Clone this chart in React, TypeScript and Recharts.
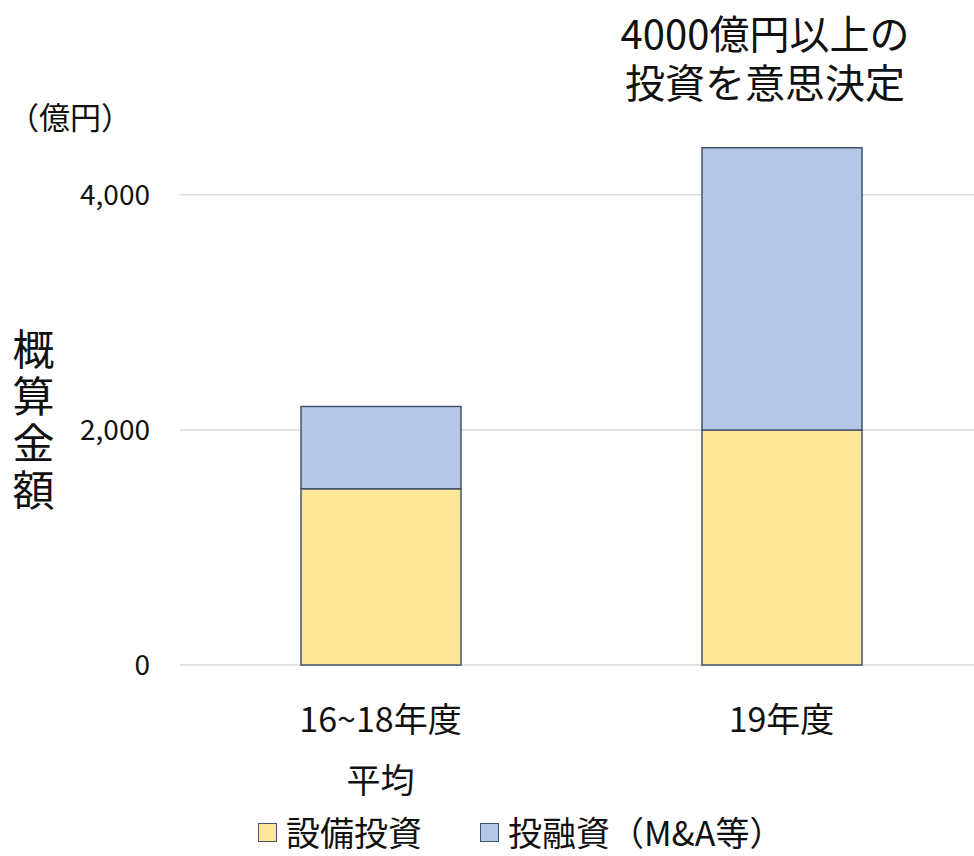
import { BarChart, Bar, XAxis, YAxis, CartesianGrid } from "recharts"

const categories = ["16~18年度\n平均", "19年度"]
const equipment = [1500, 2000]
const investment = [700, 2400]
const yTicks = [0, 2000, 4000]

const data = categories.map((name, i) => ({
  name,
  equipment: equipment[i],
  investment: investment[i],
}))

const FONT = '"Noto Sans CJK JP", "Noto Sans", sans-serif'
const YELLOW = "#FFE699"
const BLUE = "#B4C7E7"
const EDGE = "#44546A"

function YTick(props: any) {
  const { y, payload } = props
  return (
    <text x={150} y={y} dy={10} textAnchor="end" fontSize={28} fill="#111" fontFamily={FONT}>
      {payload.value.toLocaleString("en-US")}
    </text>
  )
}

function XTick(props: any) {
  const { x, payload } = props
  const lines = String(payload.value).split("\n")
  return (
    <g>
      {lines.map((l, i) => (
        <text key={i} x={x} y={732 + i * 61} textAnchor="middle" fontSize={34} fill="#111" fontFamily={FONT}>
          {l}
        </text>
      ))}
    </g>
  )
}

function LegendItem({ color, label }: { color: string; label: string }) {
  return (
    <div style={{ display: "flex", alignItems: "center", marginRight: 58 }}>
      <div style={{ width: 17, height: 17, background: color, border: `1.5px solid ${EDGE}`, marginRight: 9 }} />
      <span>{label}</span>
    </div>
  )
}

export default function App() {
  return (
    <div style={{ position: "absolute", left: 0, top: 0, width: 974, height: 856, overflow: "hidden", fontFamily: FONT, color: "#111", background: "#fff" }}>
      <BarChart width={982} height={856} data={data} margin={{ top: 136, right: 0, bottom: 161, left: 0 }} barSize={160}>
        <CartesianGrid vertical={false} horizontalValues={yTicks} stroke="#d9d9d9" strokeWidth={1.5} />
        <XAxis dataKey="name" height={30} axisLine={false} tickLine={false} tick={<XTick />} interval={0} />
        <YAxis width={180} domain={[0, 4500]} ticks={yTicks} axisLine={false} tickLine={false} tick={<YTick />} />
        <Bar dataKey="equipment" stackId="a" fill={YELLOW} stroke={EDGE} strokeWidth={1.5} isAnimationActive={false} />
        <Bar dataKey="investment" stackId="a" fill={BLUE} stroke={EDGE} strokeWidth={1.5} isAnimationActive={false} />
      </BarChart>
      <div style={{ position: "absolute", left: 8, top: 96, fontSize: 31, lineHeight: "40px" }}>（億円）</div>
      <div style={{ position: "absolute", left: 9, top: 328, fontSize: 42, lineHeight: "48px", letterSpacing: 5, writingMode: "vertical-rl" }}>
        概算金額
      </div>
      <div style={{ position: "absolute", left: 565, top: 8, width: 400, textAlign: "center", fontSize: 40, lineHeight: "49px" }}>
        4000億円以上の
        <br />
        投資を意思決定
      </div>
      <div style={{ position: "absolute", left: 258, top: 813, display: "flex", fontSize: 34, lineHeight: "38px" }}>
        <LegendItem color={YELLOW} label="設備投資" />
        <LegendItem color={BLUE} label="投融資（M&A等）" />
      </div>
    </div>
  )
}
